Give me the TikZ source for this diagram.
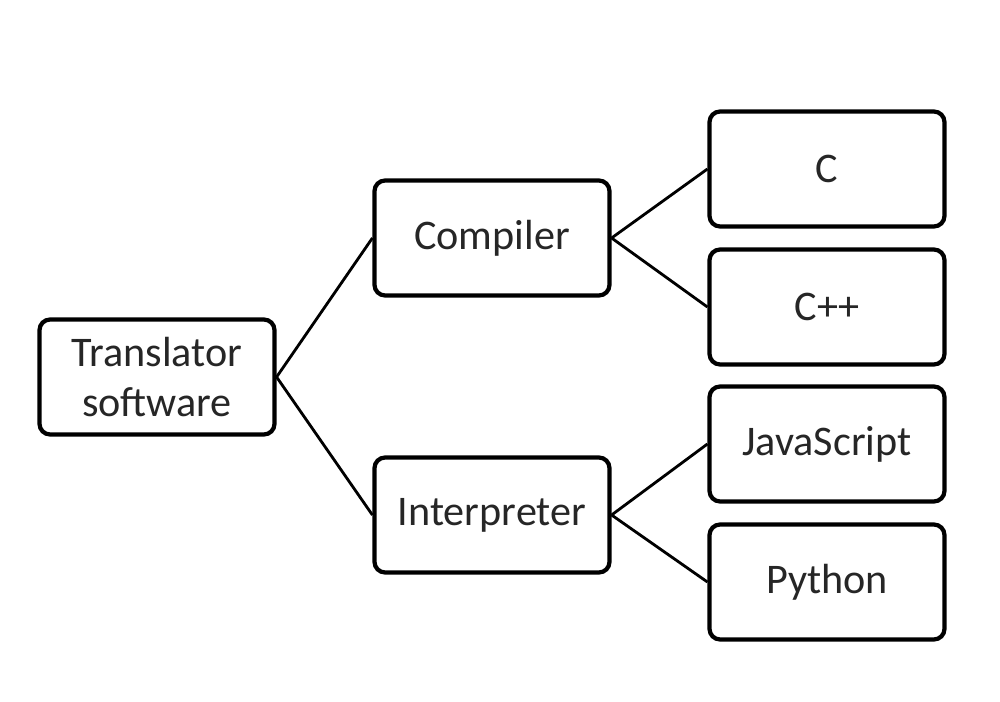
\documentclass[tikz,border=0pt]{standalone}
\usepackage{fontspec}
\setmainfont{Carlito}
\begin{document}
\begin{tikzpicture}[x=0.02cm,y=-0.02cm,
  box/.style={draw=black,line width=2.4pt,rounded corners=6pt,minimum width=4.7cm,minimum height=2.3cm,align=center,font=\fontsize{24}{28}\selectfont,text=black!85,fill=white},
  link/.style={line width=1.6pt,black}]
\useasboundingbox (0,0) rectangle (1000,702);
\node[box] (t) at (157,377) {Translator\\software};
\node[box] (co) at (492,238) {Compiler};
\node[box] (in) at (492,515) {Interpreter};
\node[box] (c) at (827,169) {C};
\node[box] (cpp) at (827,307) {C++};
\node[box] (js) at (827,444) {JavaScript};
\node[box] (py) at (827,582) {Python};
\draw[link] (t.east) -- (co.west);
\draw[link] (t.east) -- (in.west);
\draw[link] (co.east) -- (c.west);
\draw[link] (co.east) -- (cpp.west);
\draw[link] (in.east) -- (js.west);
\draw[link] (in.east) -- (py.west);
\end{tikzpicture}
\end{document}
